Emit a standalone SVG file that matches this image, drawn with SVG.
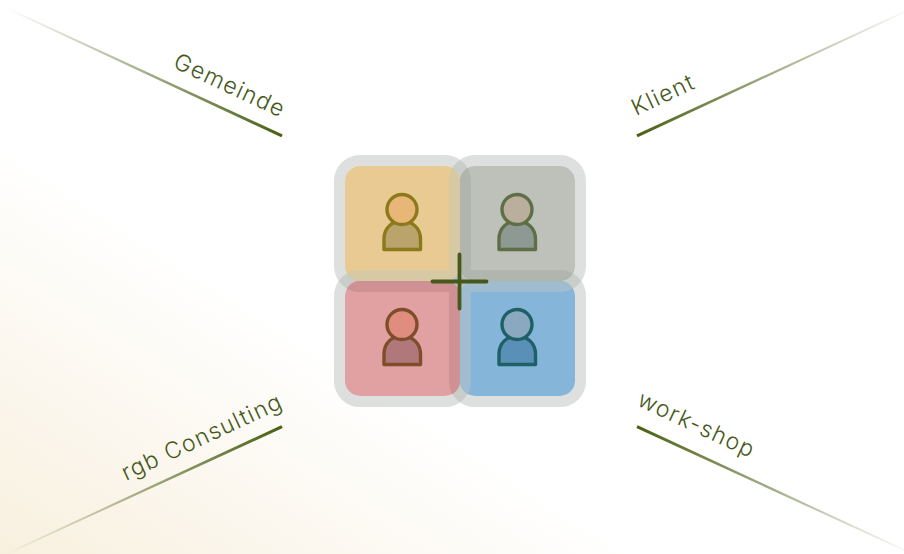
<svg xmlns="http://www.w3.org/2000/svg" width="904" height="554" viewBox="0 0 904 554">
<style>
text{font-family:"Inter","Open Sans",sans-serif;font-weight:300;font-size:23px;letter-spacing:1.3px;fill:#46591a}
.ring{fill:none;stroke:#aeb4b1;stroke-opacity:.42;stroke-width:11}
.band{fill:none;stroke-width:11}
.cross{stroke:#46591a;stroke-width:3.8;stroke-linecap:round;fill:none}
.body,.head{stroke-width:3.4;stroke-linejoin:round}
</style>
<defs>
<linearGradient id="bg" gradientUnits="userSpaceOnUse" x1="0" y1="554" x2="189" y2="262"><stop offset="0" stop-color="#f8f0df"/><stop offset="1" stop-color="#fff"/></linearGradient>
<linearGradient id="g1" gradientUnits="userSpaceOnUse" x1="282" y1="135.500" x2="6" y2="8"><stop offset="0" stop-color="#4a5f14"/><stop offset="1" stop-color="#4a5f14" stop-opacity="0"/></linearGradient>
<linearGradient id="g2" gradientUnits="userSpaceOnUse" x1="637" y1="135.500" x2="913" y2="8"><stop offset="0" stop-color="#4a5f14"/><stop offset="1" stop-color="#4a5f14" stop-opacity="0"/></linearGradient>
<linearGradient id="g3" gradientUnits="userSpaceOnUse" x1="282" y1="426.500" x2="6" y2="554"><stop offset="0" stop-color="#4a5f14"/><stop offset="1" stop-color="#4a5f14" stop-opacity="0"/></linearGradient>
<linearGradient id="g4" gradientUnits="userSpaceOnUse" x1="637" y1="426.500" x2="913" y2="554"><stop offset="0" stop-color="#4a5f14"/><stop offset="1" stop-color="#4a5f14" stop-opacity="0"/></linearGradient>
<clipPath id="cO"><rect x="345" y="166" width="115" height="115" rx="15"/></clipPath>
<clipPath id="cG"><rect x="460" y="166" width="115" height="115" rx="15"/></clipPath>
<clipPath id="cR"><rect x="345" y="281" width="115" height="115" rx="15"/></clipPath>
<clipPath id="cB"><rect x="460" y="281" width="115" height="115" rx="15"/></clipPath>
<rect id="rO" x="339.500" y="160.500" width="126" height="126" rx="20.500"/>
<rect id="rG" x="454.500" y="160.500" width="126" height="126" rx="20.500"/>
<rect id="rR" x="339.500" y="275.500" width="126" height="126" rx="20.500"/>
<rect id="rB" x="454.500" y="275.500" width="126" height="126" rx="20.500"/>
<path id="bd" d="M384 249.500V239C384 228 392 221 402 221S420.500 228 420.500 239V249.500Z"/>
</defs>
<rect id="background" width="904" height="554" fill="url(#bg)"/>
<g id="connectors">
<path fill="url(#g1)" d="M282.700 134.600L281.300 137.300L6 8.700L6.600 7.300Z"/>
<path fill="url(#g2)" d="M636.300 134.600L637.700 137.300L913 8.700L912.400 7.300Z"/>
<path fill="url(#g3)" d="M281.300 425.300L282.700 428L6.600 554.700L6 553.300Z"/>
<path fill="url(#g4)" d="M637.700 425.300L636.300 428L912.400 554.700L913 553.300Z"/>
</g>
<g id="node-orange"><rect x="345" y="166" width="115" height="115" rx="15" fill="#e8ca92"/></g>
<g id="node-grey"><rect x="460" y="166" width="115" height="115" rx="15" fill="#bdc1b9"/></g>
<g id="node-red"><rect x="345" y="281" width="115" height="115" rx="15" fill="#e1a0a2"/></g>
<g id="node-blue"><rect x="460" y="281" width="115" height="115" rx="15" fill="#85b6da"/></g>
<g id="halos">
<use href="#rO" class="ring"/><use href="#rG" class="ring"/><use href="#rR" class="ring"/><use href="#rB" class="ring"/>
<g clip-path="url(#cO)"><use href="#rG" class="band" stroke="#d6c9a3"/><use href="#rR" class="band" stroke="#d6c9a3"/></g>
<g clip-path="url(#cG)"><use href="#rO" class="band" stroke="#b0b5ae"/><use href="#rB" class="band" stroke="#b0b5ae"/></g>
<g clip-path="url(#cR)"><use href="#rO" class="band" stroke="#cf9193"/><use href="#rB" class="band" stroke="#cf9193"/></g>
<g clip-path="url(#cB)"><use href="#rG" class="band" stroke="#a0bccf"/><use href="#rR" class="band" stroke="#a0bccf"/></g>
</g>
<g id="person-orange"><use href="#bd" class="body" fill="#bba36c" stroke="#8b7a1b"/><circle class="head" cx="402" cy="209.500" r="15" fill="#e8b676" stroke="#8b7a1b"/></g>
<g id="person-grey"><use href="#bd" x="115" class="body" fill="#8e9994" stroke="#5e6e45"/><circle class="head" cx="517" cy="209.500" r="15" fill="#baae9c" stroke="#5e6e45"/></g>
<g id="person-red"><use href="#bd" y="115" class="body" fill="#b0787a" stroke="#7e4e2a"/><circle class="head" cx="402" cy="324.500" r="15" fill="#e08c7e" stroke="#7e4e2a"/></g>
<g id="person-blue"><use href="#bd" x="115" y="115" class="body" fill="#5a90b8" stroke="#1f5f66"/><circle class="head" cx="517" cy="324.500" r="15" fill="#8aa8c0" stroke="#1f5f66"/></g>
<path id="cross" class="cross" d="M432.500 281.500H486.500M459.500 254.500V308.500"/>
<text transform="translate(172 67) rotate(25)">Gemeinde</text>
<text transform="translate(636 116) rotate(-25)">Klient</text>
<text transform="translate(126 481) rotate(-25)">rgb Consulting</text>
<text transform="translate(636 405) rotate(25)">work-shop</text>
</svg>
